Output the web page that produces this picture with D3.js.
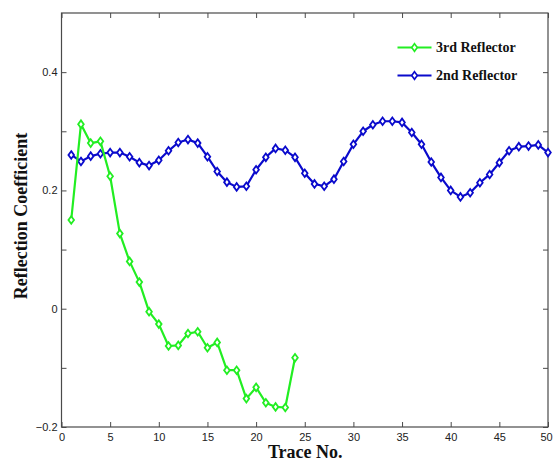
<!DOCTYPE html>
<html>
<head>
<meta charset="utf-8">
<script src="https://cdn.jsdelivr.net/npm/d3@7"></script>
<style>
  html, body { margin: 0; padding: 0; background: #fff; }
  svg { display: block; }
</style>
</head>
<body>
<svg id="chart" width="553" height="462"></svg>
<script>
// Reflection coefficient per trace for two reflectors
const traces2 = d3.range(1, 51);
const refl2 = [
  0.260, 0.249, 0.258, 0.262, 0.264, 0.264, 0.257, 0.247, 0.242, 0.251,
  0.267, 0.281, 0.286, 0.280, 0.257, 0.232, 0.214, 0.206, 0.207, 0.235,
  0.256, 0.271, 0.268, 0.256, 0.229, 0.211, 0.207, 0.219, 0.249, 0.278,
  0.300, 0.311, 0.317, 0.317, 0.315, 0.298, 0.278, 0.248, 0.222, 0.200,
  0.189, 0.196, 0.213, 0.227, 0.247, 0.267, 0.274, 0.275, 0.277, 0.264
];
const traces3 = d3.range(1, 25);
const refl3 = [
  0.150, 0.312, 0.280, 0.283, 0.224, 0.127, 0.080, 0.045, -0.005, -0.026,
  -0.063, -0.062, -0.042, -0.039, -0.066, -0.057, -0.104, -0.104, -0.152, -0.133,
  -0.159, -0.166, -0.167, -0.083
];
const xTicks = [0, 5, 10, 15, 20, 25, 30, 35, 40, 45, 50];
const yTicks = [-0.2, -0.1, 0, 0.1, 0.2, 0.3, 0.4];
const yLabelled = [-0.2, 0, 0.2, 0.4];
const seriesNames = ["3rd Reflector", "2nd Reflector"];

const svg = d3.select("#chart");
const plot = { left: 61.5, right: 548, top: 13, bottom: 427 };

const x = d3.scaleLinear().domain([0, 50]).range([plot.left, plot.right]);
const y = d3.scaleLinear().domain([-0.2, 0.5]).range([plot.bottom, plot.top]);

const frameColor = "#4a4a4a";
const tickFont = "'Liberation Sans', Arial, sans-serif";
const titleFont = "'Liberation Serif', 'Times New Roman', serif";
const fmtY = d => (Math.abs(d) < 1e-9 ? "0" : d3.format(".1f")(d));

function styleAxis(g) {
  g.select(".domain").remove();
  g.selectAll(".tick line").attr("stroke", frameColor).attr("stroke-width", 1);
  g.selectAll(".tick text")
    .attr("font-family", tickFont)
    .attr("font-size", 11)
    .attr("fill", "#222");
}

// bottom axis (labels) and top axis (ticks only), ticks point inward
const bottomAxis = svg.append("g")
  .attr("transform", `translate(0,${plot.bottom})`)
  .call(d3.axisBottom(x).tickValues(xTicks).tickSizeInner(-5).tickSizeOuter(0).tickPadding(6))
  .call(styleAxis);
// keep the last label inside the canvas edge
bottomAxis.selectAll(".tick text").filter(d => d === 50).attr("dx", "-2");
svg.append("g")
  .attr("transform", `translate(0,${plot.top})`)
  .call(d3.axisTop(x).tickValues(xTicks).tickSizeInner(-5).tickSizeOuter(0).tickFormat(""))
  .call(styleAxis);

// left axis (labels every 0.2) and right axis (ticks only)
svg.append("g")
  .attr("transform", `translate(${plot.left},0)`)
  .call(d3.axisLeft(y).tickValues(yTicks).tickSizeInner(-5).tickSizeOuter(0).tickPadding(4)
    .tickFormat(d => yLabelled.some(v => Math.abs(v - d) < 1e-9) ? fmtY(d) : ""))
  .call(styleAxis);
svg.append("g")
  .attr("transform", `translate(${plot.right},0)`)
  .call(d3.axisRight(y).tickValues(yTicks).tickSizeInner(-5).tickSizeOuter(0).tickFormat(""))
  .call(styleAxis);

// plot frame
svg.append("rect")
  .attr("x", plot.left).attr("y", plot.top)
  .attr("width", plot.right - plot.left).attr("height", plot.bottom - plot.top)
  .attr("fill", "none").attr("stroke", frameColor).attr("stroke-width", 1.2);

const diamond = (cx, cy) =>
  `M${cx},${cy - 3.8}L${cx + 2.8},${cy}L${cx},${cy + 3.8}L${cx - 2.8},${cy}Z`;

function drawSeries(xs, ys, color) {
  const pts = xs.map((t, i) => [t, ys[i]]);
  const line = d3.line().x(d => x(d[0])).y(d => y(d[1]));
  const g = svg.append("g");
  g.append("path")
    .attr("d", line(pts))
    .attr("fill", "none")
    .attr("stroke", color)
    .attr("stroke-width", 2.2)
    .attr("stroke-linejoin", "round");
  g.selectAll("path.mk")
    .data(pts)
    .join("path")
    .attr("class", "mk")
    .attr("d", d => diamond(x(d[0]), y(d[1])))
    .attr("fill", "#fff")
    .attr("stroke", color)
    .attr("stroke-width", 1.8);
}

const green = "#22ee22";
const blue = "#0a0acc";
drawSeries(traces2, refl2, blue);
drawSeries(traces3, refl3, green);

// legend
const legend = svg.append("g");
[[seriesNames[0], green, 47.5], [seriesNames[1], blue, 75.5]].forEach(([name, color, ly]) => {
  legend.append("line")
    .attr("x1", 397.5).attr("x2", 431.5).attr("y1", ly).attr("y2", ly)
    .attr("stroke", color).attr("stroke-width", 2);
  legend.append("path")
    .attr("d", diamond(414.5, ly))
    .attr("fill", "#fff").attr("stroke", color).attr("stroke-width", 1.6);
  legend.append("text")
    .attr("x", 436).attr("y", ly + 4.5)
    .attr("font-family", titleFont).attr("font-weight", "bold").attr("font-size", 14)
    .attr("fill", "#111")
    .text(name);
});

// axis titles
svg.append("text")
  .attr("x", (plot.left + plot.right) / 2 + 0.5).attr("y", 457.5)
  .attr("text-anchor", "middle")
  .attr("font-family", titleFont).attr("font-weight", "bold").attr("font-size", 18)
  .attr("fill", "#111")
  .text("Trace No.");
svg.append("text")
  .attr("transform", "translate(27,216) rotate(-90)")
  .attr("text-anchor", "middle")
  .attr("font-family", titleFont).attr("font-weight", "bold").attr("font-size", 18)
  .attr("fill", "#111")
  .text("Reflection Coefficient");
</script>
</body>
</html>
